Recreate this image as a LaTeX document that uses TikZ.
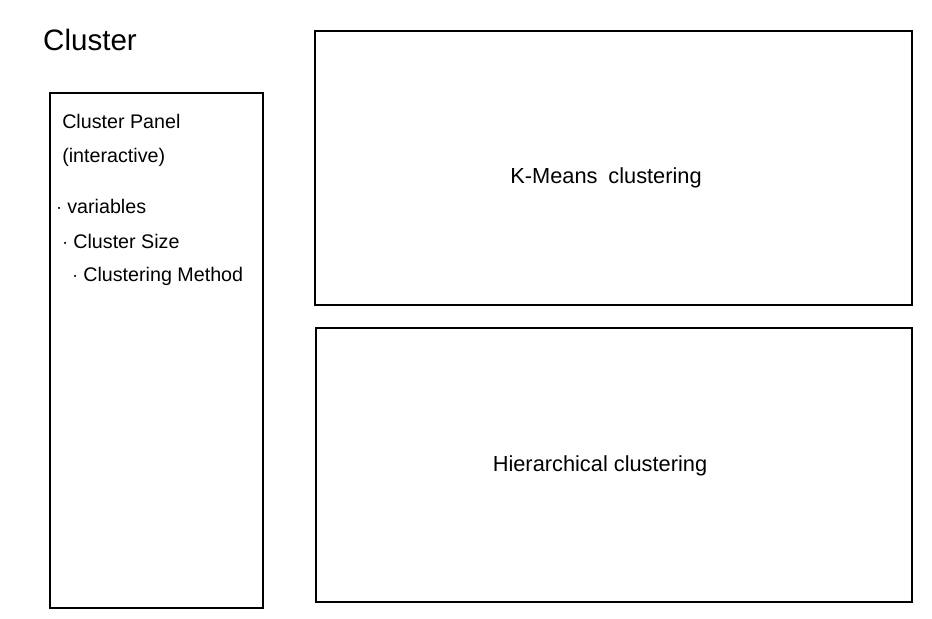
\documentclass[tikz,border=0pt]{standalone}
\usepackage{fontspec}
\setmainfont{Liberation Sans}

\begin{document}
\begin{tikzpicture}[x=0.025cm,y=-0.025cm]
\tikzstyle{every node}+=[inner sep=0pt]
\tikzstyle{frame}=[black, line width=1.4pt]
\tikzstyle{item}=[anchor=west, font=\fontsize{14}{16}\selectfont]
\useasboundingbox (0,0) rectangle (932,618);
% title
\node (title) at (90,40) {\fontsize{21}{25}\selectfont Cluster};
% left panel
\draw [frame] (50,93) rectangle (263,608);
\node [item] (panel) at (62,121) {Cluster Panel};
\node [item] (inter) at (62,157) {(interactive)};
\node [item] (vars) at (56,206) {$\cdot$ variables};
\node [item] (size) at (62,241) {$\cdot$ Cluster Size};
\node [item] (method) at (72,276) {$\cdot$ Clustering Method};
% right boxes
\draw [frame] (315,31) rectangle (912,305);
\node (kmeans) at (606,178) {\fontsize{15.5}{18}\selectfont K-Means\enspace clustering};
\draw [frame] (316,328) rectangle (912,602);
\node (hier) at (600,466) {\fontsize{15.5}{18}\selectfont Hierarchical clustering};
\end{tikzpicture}
\end{document}
